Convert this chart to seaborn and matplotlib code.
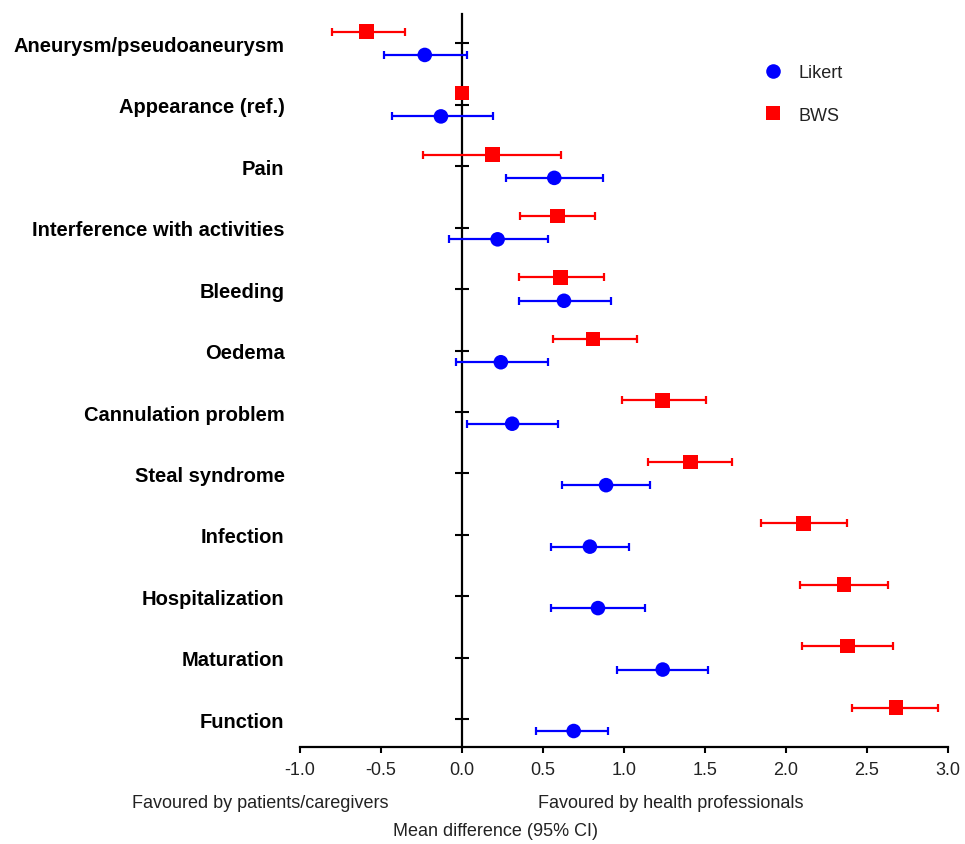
import numpy as np
import pandas as pd
import matplotlib
matplotlib.use('Agg')
import matplotlib.pyplot as plt
import seaborn as sns

# 数据
categories = ['Aneurysm/pseudoaneurysm', 'Appearance (ref.)', 'Pain',
              'Interference with activities', 'Bleeding', 'Oedema',
              'Cannulation problem', 'Steal syndrome', 'Infection',
              'Hospitalization', 'Maturation', 'Function']

likert_mean = [-0.23, -0.13, 0.57, 0.22, 0.63, 0.24, 0.31, 0.89, 0.79, 0.84, 1.24, 0.69]
likert_lo = [-0.48, -0.43, 0.27, -0.08, 0.35, -0.04, 0.03, 0.62, 0.55, 0.55, 0.96, 0.46]
likert_hi = [0.03, 0.19, 0.87, 0.53, 0.92, 0.53, 0.59, 1.16, 1.03, 1.13, 1.52, 0.90]

bws_mean = [-0.59, 0.00, 0.19, 0.59, 0.61, 0.81, 1.24, 1.41, 2.11, 2.36, 2.38, 2.68]
bws_lo = [-0.80, 0.00, -0.24, 0.36, 0.35, 0.56, 0.99, 1.15, 1.85, 2.09, 2.10, 2.41]
bws_hi = [-0.35, 0.00, 0.61, 0.82, 0.88, 1.08, 1.51, 1.67, 2.38, 2.63, 2.66, 2.94]

xticks = [-1.0, -0.5, 0.0, 0.5, 1.0, 1.5, 2.0, 2.5, 3.0]

sns.set_theme(style='white')
plt.rcParams['font.family'] = ['Liberation Sans', 'DejaVu Sans']
plt.rcParams['axes.unicode_minus'] = False

idx = np.arange(len(categories))
offset = 0.19
df = pd.concat([
    pd.DataFrame({'category': categories, 'method': 'Likert', 'mean': likert_mean,
                  'lo': likert_lo, 'hi': likert_hi, 'ypos': idx + offset}),
    pd.DataFrame({'category': categories, 'method': 'BWS', 'mean': bws_mean,
                  'lo': bws_lo, 'hi': bws_hi, 'ypos': idx - offset}),
], ignore_index=True)

colors = {'Likert': '#0000FF', 'BWS': '#FF0000'}

fig = plt.figure(figsize=(9.65, 8.45), dpi=100)
ax = fig.add_axes([0.311, 0.1148, 0.671, 0.867])

# 误差线
for method in ['Likert', 'BWS']:
    sub = df[df['method'] == method]
    sub = sub[sub['hi'] > sub['lo']]
    ax.errorbar(sub['mean'], sub['ypos'],
                xerr=[sub['mean'] - sub['lo'], sub['hi'] - sub['mean']],
                fmt='none', ecolor=colors[method], elinewidth=1.6,
                capsize=2.6, capthick=1.6, zorder=3)

sns.scatterplot(data=df, x='mean', y='ypos', hue='method', style='method',
                hue_order=['Likert', 'BWS'], style_order=['Likert', 'BWS'],
                markers={'Likert': 'o', 'BWS': 's'}, palette=colors,
                s=110, linewidth=0, zorder=4, ax=ax)

# 坐标轴：y轴放在 x=0 处（先设位置，否则会重置刻度）
for s in ['top', 'right']:
    ax.spines[s].set_visible(False)
ax.spines['left'].set_position(('data', 0))
ax.spines['left'].set_linewidth(1.6)
ax.spines['left'].set_color('black')
ax.spines['bottom'].set_linewidth(1.6)
ax.spines['bottom'].set_color('black')

ax.set_xlim(-1.0, 3.0)
ax.set_ylim(11.45, -0.47)
ax.set_xticks(xticks)
ax.set_xticklabels([f'{v:.1f}' for v in xticks], fontsize=13)
ax.set_yticks(idx)
ax.set_yticklabels(categories, fontsize=14.5, fontweight='bold')
ax.set_xlabel('')
ax.set_ylabel('')

ax.tick_params(axis='y', direction='inout', length=9.5, width=1.5,
               color='black', pad=123, left=True, labelcolor='black')
ax.tick_params(axis='x', direction='out', length=4, width=1.5,
               color='black', pad=6, bottom=True, labelcolor='#222222')

leg = ax.legend(loc='upper left', bbox_to_anchor=(0.677, 0.954), frameon=False,
                fontsize=13, labelspacing=1.4, handletextpad=0.4,
                markerscale=1.0)
for t in leg.get_texts():
    t.set_color('#222222')

fig.text(260 / 965, 1 - 804 / 845, 'Favoured by patients/caregivers',
         ha='center', va='center', fontsize=13, color='#222222')
fig.text(671 / 965, 1 - 804 / 845, 'Favoured by health professionals',
         ha='center', va='center', fontsize=13, color='#222222')
fig.text(495 / 965, 1 - 832 / 845, 'Mean difference (95% CI)',
         ha='center', va='center', fontsize=13, color='#222222')

fig.savefig('out.png', dpi=100)
